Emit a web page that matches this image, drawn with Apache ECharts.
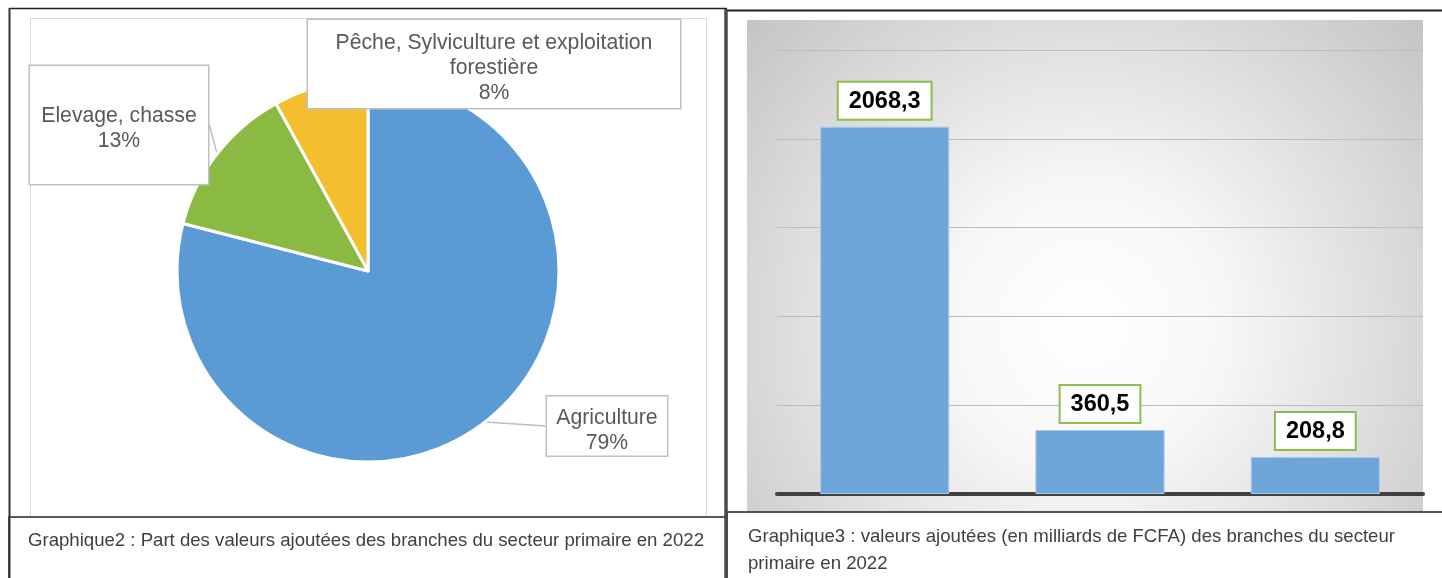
<!DOCTYPE html>
<html>
<head>
<meta charset="utf-8">
<script src="https://cdn.jsdelivr.net/npm/echarts@6/dist/echarts.min.js"></script>
<style>
html, body { margin: 0; padding: 0; background: #fff; }
#chart { width: 1442px; height: 578px; }
</style>
</head>
<body>
<div id="chart"></div>
<script>
// --- data ---
var pieNames = ['Agriculture', 'Elevage, chasse', 'Pêche, Sylviculture et exploitation\nforestière'];
var pieShares = [79, 13, 8];
var pieColors = ['#5b9bd5', '#8aba42', '#f3bf2f'];

var barNames = ['Agriculture', 'Elevage, chasse', 'Pêche, Sylviculture et exploitation forestière'];
var barValues = [2068.3, 360.5, 208.8];
var yTicks = [0, 500, 1000, 1500, 2000, 2500];

var captionLeft = 'Graphique2 : Part des valeurs ajoutées des branches du secteur primaire en 2022';
var captionRight = ['Graphique3 : valeurs ajoutées (en milliards de FCFA) des branches du secteur', 'primaire en 2022'];

var FONT = '"Liberation Sans", Arial, sans-serif';

// callout boxes were placed by hand in the original
var pieLabelPos = [[607, 426], [119, 125], [494, 64]];
var pieLabelW = [100, 156, 320];
var pieLabelPad = [[1, 10, 0, 10], [30, 11, 30, 11], [3, 26, 2, 26]];

var pieData = pieNames.map(function (n, i) {
    return {
        name: n,
        value: pieShares[i],
        itemStyle: { color: pieColors[i] },
        label: { width: pieLabelW[i], padding: pieLabelPad[i] },
        labelLine: { show: i != 2 }
    };
});

var myChart = echarts.init(document.getElementById('chart'));

myChart.setOption({
    animation: false,
    graphic: [
        // right chart area, grey radial background
        {
            type: 'rect', z: -10,
            shape: { x: 747, y: 20, width: 676, height: 492 },
            style: {
                fill: new echarts.graphic.RadialGradient(0.5, 0.62, 0.95, [
                    { offset: 0, color: '#ffffff' },
                    { offset: 0.3, color: '#f7f7f7' },
                    { offset: 1, color: '#c2c2c2' }
                ])
            }
        },
        // left chart area border
        {
            type: 'rect', z: -10,
            shape: { x: 30.5, y: 18.5, width: 676, height: 520 },
            style: { fill: 'none', stroke: '#d9d9d9', lineWidth: 1 }
        },
        // caption boxes
        {
            type: 'rect', z: 5,
            shape: { x: 9, y: 517, width: 718, height: 70 },
            style: { fill: '#fff', stroke: '#222', lineWidth: 1.5 }
        },
        {
            type: 'rect', z: 5,
            shape: { x: 727, y: 512, width: 730, height: 70 },
            style: { fill: '#fff', stroke: '#222', lineWidth: 1.5 }
        },
        // outer frame lines
        { type: 'line', z: 6, shape: { x1: 9, y1: 8.5, x2: 727, y2: 8.5 }, style: { stroke: '#222', lineWidth: 1.5 } },
        { type: 'line', z: 6, shape: { x1: 727, y1: 10.5, x2: 1442, y2: 10.5 }, style: { stroke: '#222', lineWidth: 2 } },
        { type: 'line', z: 6, shape: { x1: 9.5, y1: 8, x2: 9.5, y2: 578 }, style: { stroke: '#333', lineWidth: 2 } },
        { type: 'line', z: 6, shape: { x1: 726, y1: 9, x2: 726, y2: 578 }, style: { stroke: '#4a4a4a', lineWidth: 3.5 } },
        // captions
        {
            type: 'text', z: 7, left: 28, top: 527,
            style: { text: captionLeft, font: '18.6px ' + FONT, fill: '#404040', lineHeight: 27 }
        },
        {
            type: 'text', z: 7, left: 748, top: 523,
            style: { text: captionRight.join('\n'), font: '18.6px ' + FONT, fill: '#404040', lineHeight: 27 }
        }
    ],
    grid: { left: 777, right: 19, top: 50, bottom: 84 },
    xAxis: {
        type: 'category',
        data: barNames,
        axisLine: { lineStyle: { color: '#404040', width: 4 } },
        axisTick: { show: false },
        axisLabel: { show: false }
    },
    yAxis: {
        type: 'value',
        min: yTicks[0],
        max: yTicks[yTicks.length - 1],
        interval: yTicks[1] - yTicks[0],
        axisLine: { show: false },
        axisTick: { show: false },
        axisLabel: { show: false },
        splitLine: { lineStyle: { color: '#bcbcbc', width: 1 } }
    },
    series: [
        {
            type: 'pie',
            center: [368, 271],
            radius: 191,
            startAngle: 90,
            clockwise: true,
            data: pieData,
            itemStyle: { borderColor: '#fff', borderWidth: 3 },
            label: {
                show: true,
                position: 'outside',
                // small spacer line on top pushes the text a bit lower in its box
                formatter: '{s| }\n{b}\n{d}%',
                rich: { s: { fontSize: 1, lineHeight: 8 } },
                fontFamily: FONT,
                fontSize: 21.2,
                lineHeight: 25,
                color: '#595959',
                align: 'center',
                backgroundColor: '#fff',
                borderColor: '#bfbfbf',
                borderWidth: 1.5,
                overflow: 'none'
            },
            labelLine: {
                show: true,
                length: 10,
                length2: 0,
                lineStyle: { color: '#bfbfbf', width: 1.5 }
            },
            labelLayout: function (p) {
                var pos = pieLabelPos[p.dataIndex];
                return { x: pos[0], y: pos[1], align: 'center', verticalAlign: 'middle' };
            }
        },
        {
            type: 'bar',
            data: barValues,
            barWidth: '60%',
            itemStyle: { color: '#6fa6d9', borderColor: '#a9cbee', borderWidth: 1 },
            label: {
                show: true,
                position: 'top',
                distance: 8,
                formatter: function (p) { return String(p.value).replace('.', ','); },
                fontFamily: FONT,
                fontWeight: 'bold',
                fontSize: 23.5,
                lineHeight: 26,
                color: '#000',
                backgroundColor: '#fff',
                borderColor: '#8cbd4a',
                borderWidth: 2,
                padding: [6, 10, 4, 10]
            }
        }
    ]
});
</script>
</body>
</html>
